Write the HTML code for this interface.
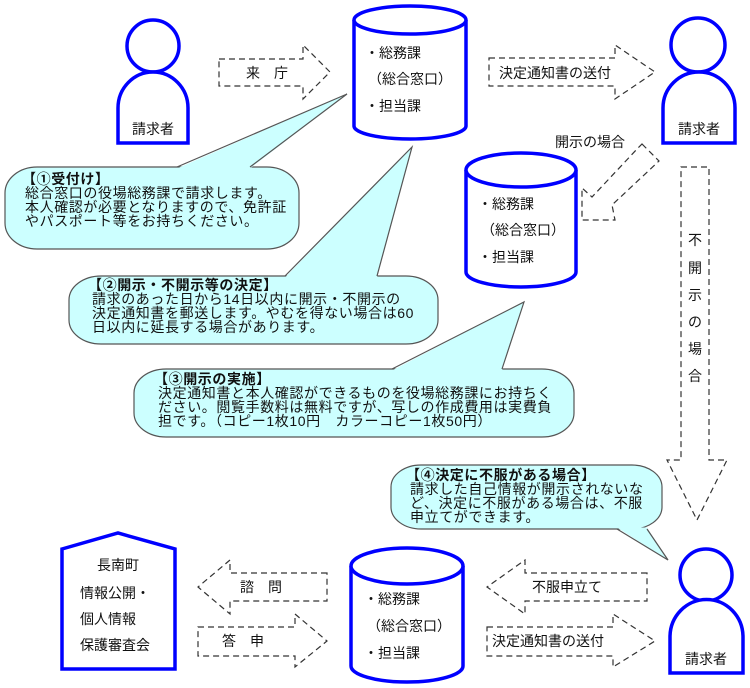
<!DOCTYPE html>
<html><head><meta charset="utf-8"><style>
body{margin:0;background:#fff}
svg{display:block}
text{font-family:"Liberation Sans","Noto Sans CJK JP",sans-serif;fill:#111}
.k{letter-spacing:0.6px}
.b{fill:#fff;stroke:#0000ff;stroke-width:3.5}
.d{fill:#fff;stroke:#333;stroke-width:1.2;stroke-dasharray:6,4}
.c{fill:#ccffff;stroke:#555;stroke-width:1.2}
.t{fill:#ccffff;stroke:none}
.s{fill:none;stroke:#555;stroke-width:1.2}
</style></head><body>
<svg width="750" height="688" viewBox="0 0 750 688" xmlns="http://www.w3.org/2000/svg">
<!-- person 1 -->
<circle class="b" cx="153" cy="46" r="26"/>
<path class="b" d="M118,143 V108 A35,36 0 0 1 188,108 V143 Z"/>
<text x="153" y="134" font-size="14" text-anchor="middle">請求者</text>
<!-- person 2 -->
<circle class="b" cx="698" cy="45" r="27"/>
<path class="b" d="M663,143 V108 A36,36 0 0 1 735,108 V143 Z"/>
<text x="699" y="134" font-size="14" text-anchor="middle">請求者</text>
<!-- person 3 -->
<circle class="b" cx="706" cy="575" r="26"/>
<path class="b" d="M670,673 V637 A36,37 0 0 1 743,637 V673 Z"/>
<text x="706" y="664" font-size="14" text-anchor="middle">請求者</text>

<!-- cylinder 1 -->
<path class="b" d="M354,20 V126 A56,13 0 0 0 466,126 V20"/>
<ellipse class="b" cx="410" cy="20" rx="56" ry="14"/>
<text x="365" y="58" font-size="14">・総務課</text>
<text x="368" y="84" font-size="14">（総合窓口）</text>
<text x="365" y="111" font-size="14">・担当課</text>
<!-- cylinder 2 -->
<path class="b" d="M466,170 V272 A55,15 0 0 0 576,272 V170"/>
<ellipse class="b" cx="521" cy="170" rx="55" ry="17"/>
<text x="478" y="209" font-size="14">・総務課</text>
<text x="481" y="235" font-size="14">（総合窓口）</text>
<text x="478" y="262" font-size="14">・担当課</text>
<!-- cylinder 3 -->
<path class="b" d="M351,566 V666 A56,16 0 0 0 463,666 V566"/>
<ellipse class="b" cx="407" cy="566" rx="56" ry="18"/>
<text x="364" y="604" font-size="14">・総務課</text>
<text x="367" y="631" font-size="14">（総合窓口）</text>
<text x="364" y="658" font-size="14">・担当課</text>

<!-- pentagon -->
<path class="b" d="M62,549 L118,533 L175,549 V669 H62 Z"/>
<text x="97" y="570" font-size="14">長南町</text>
<text x="80" y="598" font-size="14">情報公開・</text>
<text x="80" y="624" font-size="14">個人情報</text>
<text x="80" y="650" font-size="14">保護審査会</text>

<!-- arrows -->
<polygon class="d" points="219,59 303,59 303,45 330,72 303,99 303,86 219,86"/>
<text x="246" y="78" font-size="14">来　庁</text>
<polygon class="d" points="489,58 615,58 615,45 655,72 615,99 615,86 489,86"/>
<text x="499" y="78" font-size="14">決定通知書の送付</text>
<polygon class="d" points="642,144 659,161 612,205 615,220 582,220 582,188 592,197 638,148"/>
<text x="555" y="147" font-size="14">開示の場合</text>
<polygon class="d" points="681,167 709,167 709,460 727,460 697,520 667,460 681,460"/>
<text x="695" y="245" font-size="14" text-anchor="middle">不</text>
<text x="695" y="273" font-size="14" text-anchor="middle">開</text>
<text x="695" y="300" font-size="14" text-anchor="middle">示</text>
<text x="695" y="327" font-size="14" text-anchor="middle">の</text>
<text x="695" y="354" font-size="14" text-anchor="middle">場</text>
<text x="695" y="381" font-size="14" text-anchor="middle">合</text>
<polygon class="d" points="327,573 230,573 230,560 198,587 230,614 230,601 327,601"/>
<text x="240" y="592" font-size="14">諮　問</text>
<polygon class="d" points="198,627 295,627 295,614 327,641 295,667 295,656 198,656"/>
<text x="222" y="646" font-size="14">答　申</text>
<polygon class="d" points="647,573 525,573 525,560 487,587 525,614 525,601 647,601"/>
<text x="532" y="592" font-size="14">不服申立て</text>
<polygon class="d" points="487,627 613,627 613,614 655,641 613,667 613,656 487,656"/>
<text x="492" y="646" font-size="14">決定通知書の送付</text>

<!-- callout 1 -->
<rect class="c" x="5" y="167" width="294" height="82" rx="32" ry="26"/>
<polygon class="t" points="177,168.5 347,94 250,168.5"/>
<polyline class="s" points="177,167 347,94 250,167"/>
<text font-size="14" class="k"><tspan x="22" y="184" font-weight="bold">【①受付け】</tspan><tspan x="25" y="198">総合窓口の役場総務課で請求します。</tspan><tspan x="25" y="212">本人確認が必要となりますので、免許証</tspan><tspan x="25" y="226">やパスポート等をお持ちください。</tspan></text>

<!-- callout 2 -->
<rect class="c" x="69" y="276" width="369" height="68" rx="32" ry="24"/>
<polygon class="t" points="285,277.5 412,147 377,277.5"/>
<polyline class="s" points="285,276 412,147 377,276"/>
<text font-size="14" class="k"><tspan x="88" y="290" font-weight="bold">【②開示・不開示等の決定】</tspan><tspan x="92" y="304">請求のあった日から14日以内に開示・不開示の</tspan><tspan x="92" y="318">決定通知書を郵送します。やむを得ない場合は60</tspan><tspan x="92" y="332">日以内に延長する場合があります。</tspan></text>

<!-- callout 3 -->
<rect class="c" x="134" y="369" width="440" height="68" rx="32" ry="24"/>
<polygon class="t" points="392,370.5 524,302 502,370.5"/>
<polyline class="s" points="392,369 524,302 502,369"/>
<text font-size="14" class="k"><tspan x="154" y="384" font-weight="bold">【③開示の実施】</tspan><tspan x="158" y="398">決定通知書と本人確認ができるものを役場総務課にお持ちく</tspan><tspan x="158" y="412">ださい。閲覧手数料は無料ですが、写しの作成費用は実費負</tspan><tspan x="158" y="426">担です。（コピー1枚10円　カラーコピー1枚50円）</tspan></text>

<!-- callout 4 -->
<rect class="c" x="391" y="465" width="271" height="64" rx="30" ry="22"/>
<polygon class="t" points="617,527.5 668,560 647,527.5"/>
<polyline class="s" points="617,529 668,560 647,529"/>
<text font-size="14" class="k"><tspan x="406" y="480" font-weight="bold">【④決定に不服がある場合】</tspan><tspan x="410" y="494">請求した自己情報が開示されないな</tspan><tspan x="410" y="508">ど、決定に不服がある場合は、不服</tspan><tspan x="410" y="522">申立てができます。</tspan></text>
</svg>
</body></html>
